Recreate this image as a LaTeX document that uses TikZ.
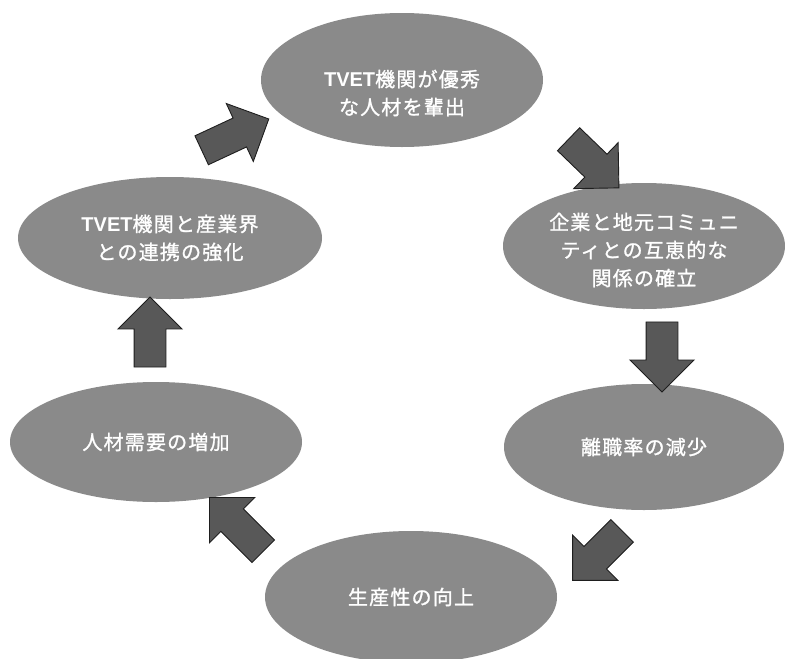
\documentclass[tikz,border=0pt]{standalone}
\usepackage{fontspec}
\newfontfamily\jpfont[LetterSpace=6,FakeBold=1.2]{Noto Sans CJK JP}
\newfontfamily\tvetfont{Liberation Sans}
\usetikzlibrary{shapes.geometric,shapes.arrows}
\definecolor{ellgray}{RGB}{138,138,138}
\definecolor{arrgray}{RGB}{88,88,88}
\definecolor{arredge}{RGB}{30,30,30}
\newcommand{\tvet}{{\tvetfont\bfseries TVET}}
\tikzset{
  bubble/.style 2 args={ellipse, fill=ellgray, draw=none, inner sep=0pt,
    minimum width=#1, minimum height=#2},
  bubbletext/.style={text=white, align=center, inner sep=0pt,
    font=\jpfont\fontsize{20pt}{28pt}\selectfont},
  blockarrow/.style={single arrow, fill=arrgray, draw=arredge, line width=0.9pt,
    inner sep=0pt, text height=31pt, text depth=0pt, text width=0pt,
    single arrow head extend=16pt, single arrow tip angle=90,
    minimum height=70pt}
}
\begin{document}
\begin{tikzpicture}[x=1pt,y=-1pt]
\useasboundingbox (0,0) rectangle (785,659);
\clip (0,0) rectangle (785,659);
\fill[white] (0,0) rectangle (785,659);
% ellipses
\node[bubble={282pt}{134pt}] (e1) at (402,80) {};
\node[bubble={282pt}{126pt}] (e2) at (644,246) {};
\node[bubble={280pt}{126pt}] (e3) at (644,447) {};
\node[bubble={292pt}{132pt}] (e4) at (411,597) {};
\node[bubble={292pt}{120pt}] (e5) at (156,442) {};
\node[bubble={304pt}{122pt}] (e6) at (170,238) {};
% texts
\node[bubbletext] (t1) at ([yshift=-13pt]e1.center) {\tvet 機関が優秀\\な人材を輩出};
\node[bubbletext] (t2) at ([yshift=-4pt]e2.center) {企業と地元コミュニ\\ティとの互恵的な\\関係の確立};
\node[bubbletext] (t3) at (e3.center) {離職率の減少};
\node[bubbletext] (t4) at (e4.center) {生産性の向上};
\node[bubbletext] (t5) at (e5.center) {人材需要の増加};
\node[bubbletext] (t6) at (e6.center) {\tvet 機関と産業界\\との連携の強化};
% block arrows
\node[blockarrow, rotate=25, minimum height=74pt] (a1) at (228,138) {};
\node[blockarrow, rotate=-44] (a2) at (588,158) {};
\node[blockarrow, rotate=-90] (a3) at (662,349) {};
\node[blockarrow, rotate=-135] (a4) at (603,550) {};
\node[blockarrow, rotate=135, minimum height=76pt] (a5) at (242,530) {};
\node[blockarrow, rotate=90] (a6) at (150,340) {};
\end{tikzpicture}
\end{document}
